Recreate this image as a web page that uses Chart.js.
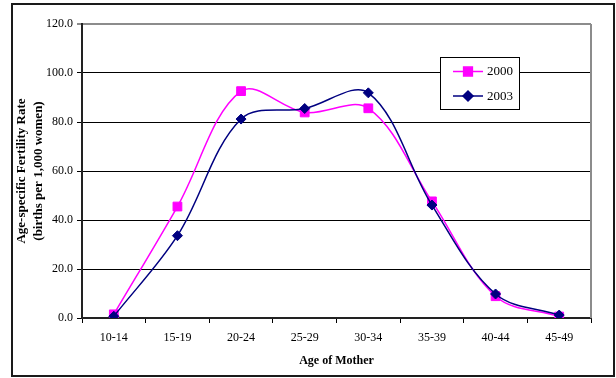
<!DOCTYPE html>
<html>
<head>
<meta charset="utf-8">
<style>
  html, body { margin: 0; padding: 0; background: #fff; }
  #wrap { position: relative; width: 616px; height: 378px; }
</style>
<script src="https://cdn.jsdelivr.net/npm/chart.js@4.4.1/dist/chart.umd.min.js"></script>
</head>
<body>
<div id="wrap"><canvas id="c" width="616" height="378"></canvas></div>
<script>
// Age-specific fertility rates (births per 1,000 women)
const ageGroups = ['10-14', '15-19', '20-24', '25-29', '30-34', '35-39', '40-44', '45-49'];
const rates2000 = [1.5, 45.5, 92.6, 83.9, 85.6, 47.6, 8.9, 0.6];
const rates2003 = [0.7, 33.6, 81.2, 85.5, 91.9, 46.1, 9.8, 1.2];
const seriesLabels = ['2000', '2003'];
const yMin = 0, yMax = 120, yStep = 20;

const SERIF = '"Liberation Serif", "Times New Roman", serif';

// Outer frame and grey plot-area border (top edge comes from the 120 grid line)
const framePlugin = {
  id: 'frame',
  beforeDraw(chart) {
    const ctx = chart.ctx;
    ctx.save();
    ctx.fillStyle = '#fff';
    ctx.fillRect(0, 0, chart.width, chart.height);
    ctx.strokeStyle = '#1a1a1a';
    ctx.lineWidth = 2;
    ctx.strokeRect(12, 4, 602, 372);
    ctx.restore();
  },
  beforeDatasetsDraw(chart) {
    const {ctx, chartArea: a} = chart;
    ctx.save();
    ctx.strokeStyle = '#8c8c8c';
    ctx.lineWidth = 2;
    ctx.beginPath();
    ctx.moveTo(a.right, a.top);
    ctx.lineTo(a.right, a.bottom);
    ctx.stroke();
    ctx.restore();
  }
};

// Boxed legend sitting inside the plot area
const boxLegend = {
  id: 'boxLegend',
  afterDatasetsDraw(chart) {
    const ctx = chart.ctx;
    const x = 440.5, y = 57.5, w = 79, h = 52;
    ctx.save();
    ctx.fillStyle = '#fff';
    ctx.fillRect(x, y, w, h);
    ctx.strokeStyle = '#000';
    ctx.lineWidth = 1;
    ctx.strokeRect(x, y, w, h);
    const rows = [71.5, 96];
    chart.data.datasets.forEach((ds, i) => {
      const ry = rows[i];
      ctx.strokeStyle = ds.borderColor;
      ctx.lineWidth = 1.5;
      ctx.beginPath();
      ctx.moveTo(453, ry);
      ctx.lineTo(483, ry);
      ctx.stroke();
      ctx.fillStyle = ds.pointBackgroundColor;
      ctx.strokeStyle = ds.pointBorderColor;
      Chart.helpers.drawPoint(ctx, {
        pointStyle: ds.pointStyle,
        radius: ds.pointRadius,
        borderWidth: 1,
        rotation: 0
      }, 468, ry);
      ctx.fillStyle = '#000';
      ctx.font = '13px ' + SERIF;
      ctx.textAlign = 'left';
      ctx.textBaseline = 'middle';
      ctx.fillText(ds.label, 487, ry + 0.5);
    });
    ctx.restore();
  }
};

new Chart(document.getElementById('c'), {
  type: 'line',
  data: {
    labels: ageGroups,
    datasets: [
      {
        label: seriesLabels[0],
        data: rates2000,
        borderColor: '#ff00ff',
        backgroundColor: '#ff00ff',
        pointBackgroundColor: '#ff00ff',
        pointBorderColor: '#ff00ff',
        pointStyle: 'rect',
        pointRadius: 6.2,
        pointBorderWidth: 1,
        borderWidth: 1.5,
        tension: 0.35,
        fill: false,
        order: 1
      },
      {
        label: seriesLabels[1],
        data: rates2003,
        borderColor: '#000080',
        backgroundColor: '#000080',
        pointBackgroundColor: '#000080',
        pointBorderColor: '#000080',
        pointStyle: 'rectRot',
        pointRadius: 5,
        pointBorderWidth: 1,
        borderWidth: 1.5,
        tension: 0.35,
        fill: false,
        order: 0
      }
    ]
  },
  options: {
    responsive: false,
    animation: false,
    devicePixelRatio: 1,
    layout: { padding: { left: 12, right: 25, top: 24, bottom: 0 } },
    plugins: {
      legend: { display: false },
      tooltip: { enabled: false }
    },
    scales: {
      x: {
        type: 'category',
        offset: true,
        grid: {
          offset: true,
          drawOnChartArea: false,
          drawTicks: true,
          tickLength: 5,
          color: '#000',
          lineWidth: 1
        },
        border: { display: true, color: '#222', width: 2 },
        ticks: {
          color: '#000',
          font: { family: SERIF, size: 12 },
          padding: 8,
          maxRotation: 0,
          autoSkip: false
        },
        title: {
          display: true,
          text: 'Age of Mother',
          color: '#000',
          font: { family: SERIF, size: 12, weight: 'bold' },
          padding: { top: 0, bottom: 10 }
        },
        afterFit(scale) { scale.height = 60; }
      },
      y: {
        min: yMin,
        max: yMax,
        grid: {
          drawTicks: true,
          tickLength: 5,
          color: c => (c.tick && c.tick.value === yMax ? '#8c8c8c' : '#000'),
          lineWidth: c => (c.tick && c.tick.value === yMax ? 2 : 1)
        },
        border: { display: true, color: '#222', width: 2 },
        ticks: {
          stepSize: yStep,
          color: '#000',
          font: { family: SERIF, size: 12 },
          padding: 4,
          callback: v => Number(v).toFixed(1)
        },
        title: {
          display: true,
          text: ['Age-specific Fertility Rate', '(births per 1,000 women)'],
          color: '#000',
          font: { family: SERIF, size: 13, weight: 'bold', lineHeight: 1.34 },
          padding: { top: 1, bottom: 0 }
        },
        afterFit(scale) { scale.width = 70; }
      }
    }
  },
  plugins: [framePlugin, boxLegend]
});
</script>
</body>
</html>
